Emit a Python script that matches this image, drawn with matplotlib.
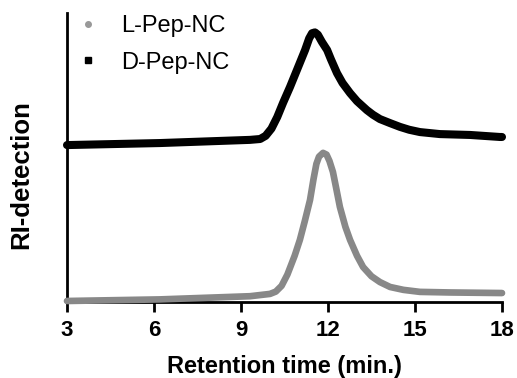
import matplotlib
matplotlib.use("Agg")
import matplotlib.pyplot as plt
from matplotlib.lines import Line2D

# Retention times (min) and RI signal (arbitrary units, 0-100 axis scale)
l_time = [3.0, 6.2, 9.31, 10.0, 10.2, 10.4, 10.6, 10.85, 11.03, 11.2, 11.38, 11.5,
          11.6, 11.69, 11.83, 11.95, 12.05, 12.17, 12.3, 12.41, 12.6, 12.76, 13.0,
          13.21, 13.5, 13.79, 14.14, 14.6, 15.17, 16.2, 18.0]
l_signal = [0.35, 0.9, 2.0, 2.8, 3.6, 5.6, 9.5, 16.0, 21.5, 28.0, 35.3, 42.5,
            47.8, 50.3, 51.6, 51.0, 48.8, 45.0, 38.5, 32.9, 26.0, 21.5, 16.0,
            12.1, 8.9, 6.9, 5.2, 4.2, 3.5, 3.3, 3.1]

d_time = [3.0, 6.2, 9.31, 9.66, 9.85, 10.05, 10.25, 10.45, 10.69, 10.93, 11.21,
          11.35, 11.45, 11.55, 11.65, 11.79, 11.97, 12.1, 12.31, 12.5, 12.76,
          13.0, 13.34, 13.55, 13.79, 14.14, 14.48, 14.8, 15.17, 15.86, 16.9,
          17.93, 18.0]
d_signal = [54.3, 55.0, 56.1, 56.4, 57.5, 60.0, 64.0, 68.9, 74.4, 80.3, 87.2,
            91.2, 93.0, 93.3, 92.5, 90.0, 87.2, 84.0, 79.2, 75.8, 72.3,
            69.5, 66.4, 64.8, 63.3, 61.9, 60.6, 59.6, 58.8, 58.1, 57.8,
            57.1, 57.1]

series_labels = ["L-Pep-NC", "D-Pep-NC"]
x_ticks = [3, 6, 9, 12, 15, 18]

plt.rcParams['font.family'] = ['Liberation Sans', 'DejaVu Sans']

fig = plt.figure(figsize=(5.17, 3.78), dpi=100)
ax = fig.add_axes([67/517, 76/378, 435/517, 289/378])

ax.plot(l_time, l_signal, color='#888888', lw=4.8, solid_capstyle='round',
        solid_joinstyle='round', zorder=3, clip_on=False)
ax.plot(d_time, d_signal, color='black', lw=5.8, solid_capstyle='round',
        solid_joinstyle='round', zorder=3, clip_on=False)

ax.set_xlim(3, 18)
ax.set_ylim(0, 100)
ax.set_xticks(x_ticks)
ax.set_xticklabels([str(t) for t in x_ticks], fontsize=16, fontweight='bold')
ax.set_yticks([])
ax.tick_params(axis='x', direction='out', length=7, width=2, pad=6)
for s in ['top', 'right']:
    ax.spines[s].set_visible(False)
for s in ['left', 'bottom']:
    ax.spines[s].set_linewidth(2)

ax.set_xlabel("Retention time (min.)", fontsize=17, fontweight='bold', labelpad=10)
ax.set_ylabel("RI-detection", fontsize=18.5, fontweight='bold')
ax.yaxis.set_label_coords(-0.077, 0.44)

handles = [Line2D([], [], ls='none', marker='o', color='#999999', markersize=4),
           Line2D([], [], ls='none', marker='s', color='black', markersize=5)]
fig.legend(handles, series_labels, loc='upper left', bbox_to_anchor=(67/517, 1 - 6/378),
           frameon=False, fontsize=17, handlelength=1.0, handletextpad=0.9,
           labelspacing=0.6, borderaxespad=0)

fig.savefig("out.png", dpi=100)
